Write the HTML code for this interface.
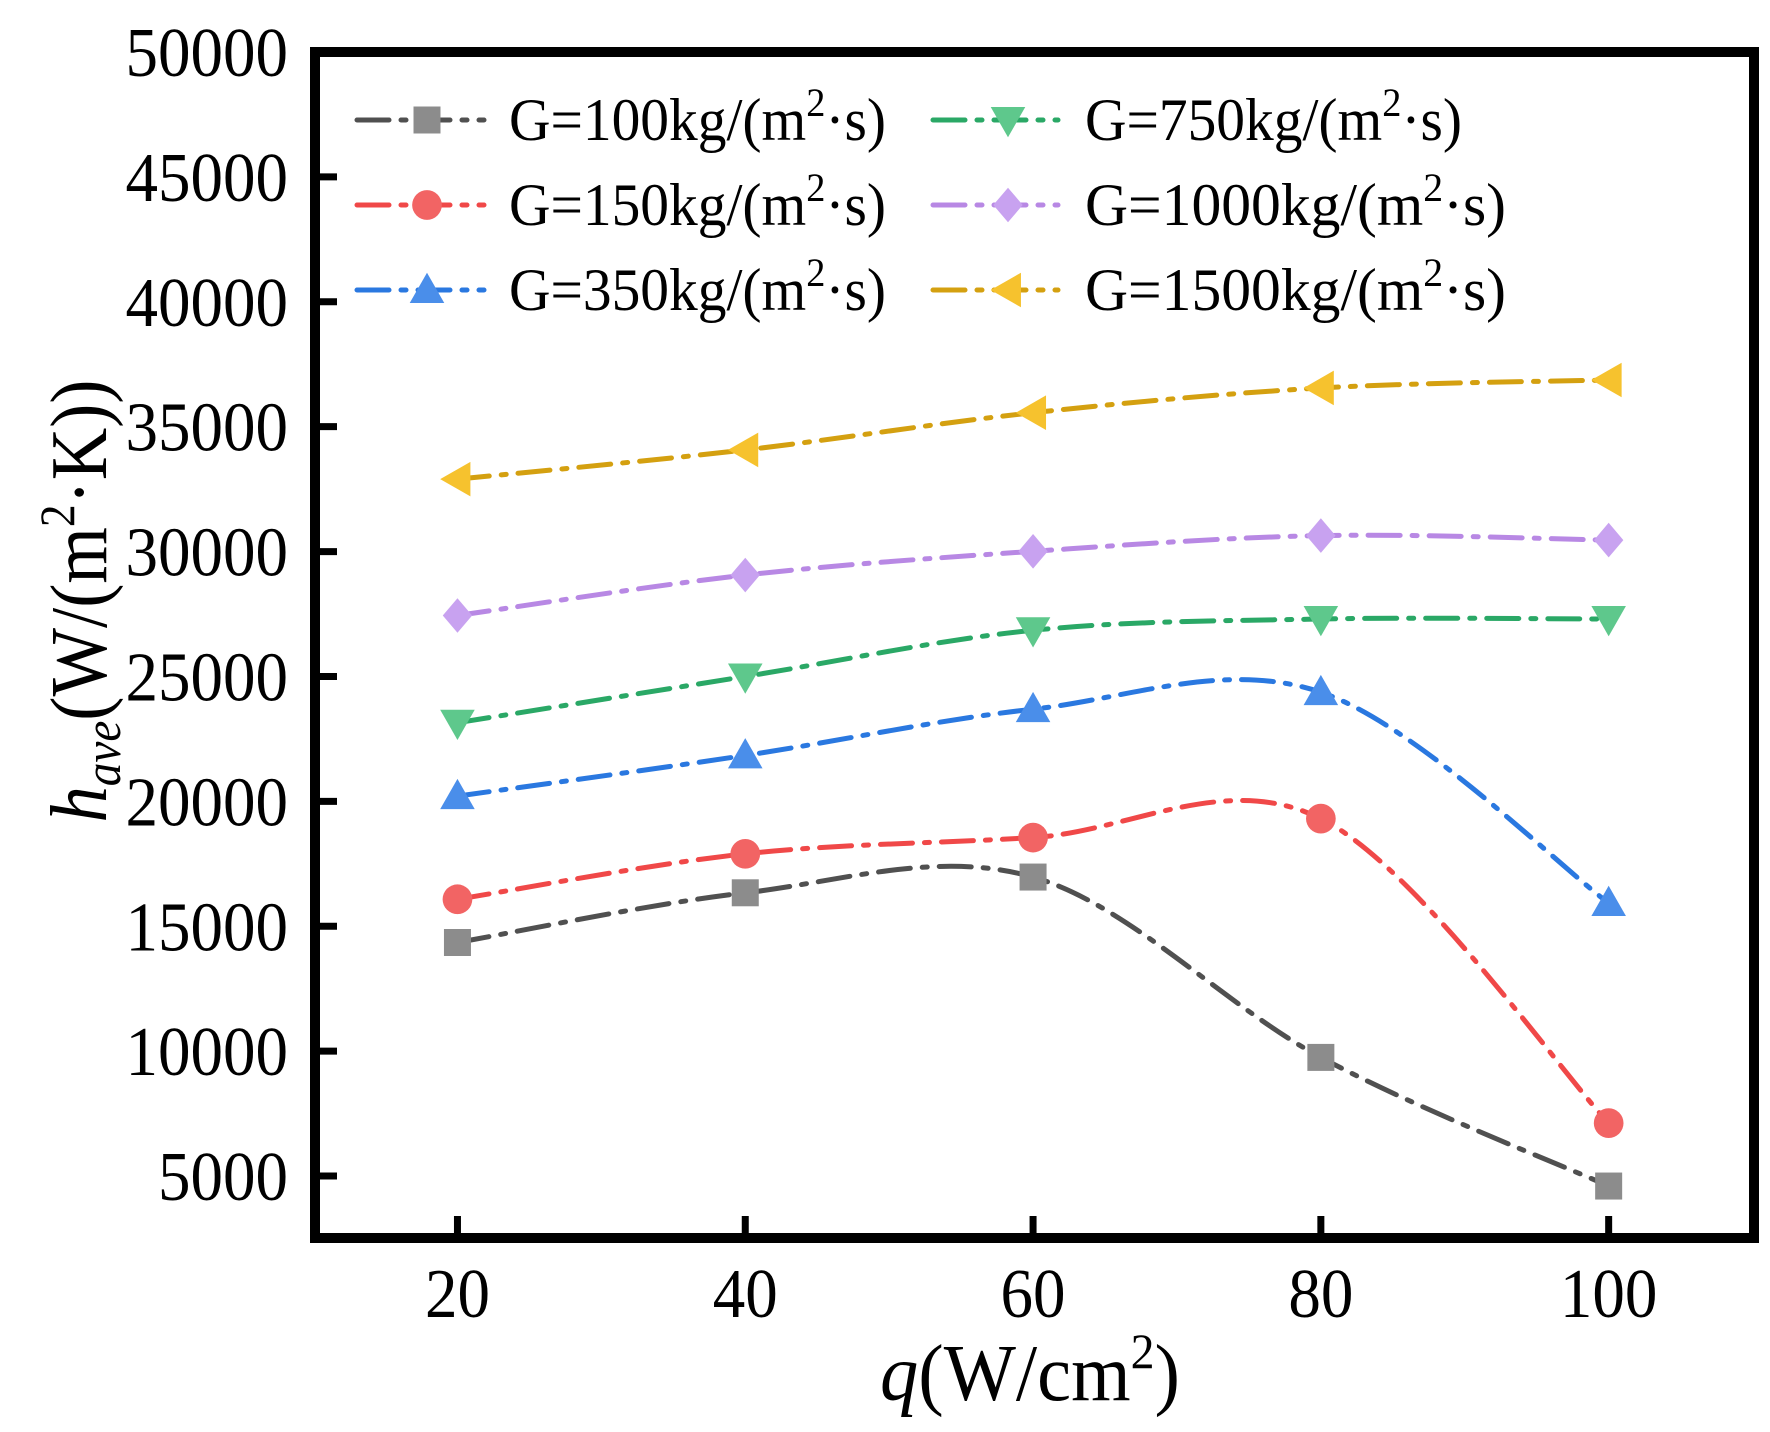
<!DOCTYPE html>
<html><head><meta charset="utf-8"><style>
html,body{margin:0;padding:0;background:#fff;}
svg{display:block;font-family:"Liberation Serif","DejaVu Serif",serif;}
</style></head><body>
<svg id="chart" width="1770" height="1432" viewBox="0 0 1770 1432" xmlns="http://www.w3.org/2000/svg">
<g id="plot"></g>
<g id="axes"></g>
<g id="legend"></g>
<text x="1030" y="1400" text-anchor="middle" font-size="80" textLength="300" lengthAdjust="spacingAndGlyphs"><tspan font-style="italic">q</tspan>(W/cm<tspan font-size="50" dy="-32">2</tspan><tspan dy="32">)</tspan></text>
<text transform="translate(106,601) rotate(-90)" text-anchor="middle" font-size="80" textLength="443" lengthAdjust="spacingAndGlyphs"><tspan font-style="italic">h</tspan><tspan font-style="italic" font-size="52" dy="14">ave</tspan><tspan dy="-14">(W/(m</tspan><tspan font-size="50" dy="-32">2</tspan><tspan dy="32">·K))</tspan></text>
</svg>
<script>
const xValues = [20, 40, 60, 80, 100];
const seriesNames = ["G=100", "G=150", "G=350", "G=750", "G=1000", "G=1500"];
const g100 = [14350, 16340, 16970, 9750, 4600];
const g150 = [16080, 17900, 18550, 19310, 7120];
const g350 = [20210, 21840, 23690, 24370, 15930];
const g750 = [23150, 25000, 26850, 27300, 27300];
const g1000 = [27440, 29060, 30010, 30640, 30460];
const g1500 = [32900, 34070, 35560, 36550, 36870];
const yTicks = [5000, 10000, 15000, 20000, 25000, 30000, 35000, 40000, 45000, 50000];
const xTicks = [20, 40, 60, 80, 100];

const NS = "http://www.w3.org/2000/svg";
const L = 315, R = 1754, T = 52, B = 1238;
const xMin = 10.1, xMax = 110.1, yMin = 2520, yMax = 50000;
function xs(v){ return L + (v - xMin) / (xMax - xMin) * (R - L); }
function ys(v){ return B - (v - yMin) / (yMax - yMin) * (B - T); }
function mk(tag, attrs, parent){ const e = document.createElementNS(NS, tag); for (const k in attrs) e.setAttribute(k, attrs[k]); parent.appendChild(e); return e; }

const styles = [
  {line:"#505050", fill:"#8c8c8c", shape:"square", slug:"g100"},
  {line:"#f04848", fill:"#f26464", shape:"circle", slug:"g150"},
  {line:"#2a78e0", fill:"#4a8eea", shape:"up", slug:"g350"},
  {line:"#2aa866", fill:"#5ec88c", shape:"down", slug:"g750"},
  {line:"#b888e4", fill:"#c8a2f0", shape:"diamond", slug:"g1000"},
  {line:"#d4a010", fill:"#f6c22e", shape:"left", slug:"g1500"}
];
const allSeries = [g100, g150, g350, g750, g1000, g1500];
const dash = "32 12 5 12";

function marker(shape, cx, cy, s, fill, parent){
  let el;
  if (shape === "square") el = mk("rect", {x:cx-s/2, y:cy-s/2, width:s, height:s, fill:fill}, parent);
  else if (shape === "circle") el = mk("circle", {cx:cx, cy:cy, r:s*0.55, fill:fill}, parent);
  else {
    const h = s*0.64; let pts;
    if (shape === "up") pts = [[cx,cy-h],[cx+h,cy+h*0.75],[cx-h,cy+h*0.75]];
    else if (shape === "down") pts = [[cx,cy+h],[cx+h,cy-h*0.75],[cx-h,cy-h*0.75]];
    else if (shape === "left") pts = [[cx-h,cy],[cx+h*0.75,cy-h],[cx+h*0.75,cy+h]];
    else pts = [[cx,cy-h],[cx+h*0.85,cy],[cx,cy+h],[cx-h*0.85,cy]];
    el = mk("polygon", {points:pts.map(p=>p.join(",")).join(" "), fill:fill}, parent);
  }
  return el;
}

function splinePath(px){
  let d = "M" + px[0][0] + "," + px[0][1];
  for (let i = 0; i < px.length - 1; i++){
    const p0 = px[Math.max(0,i-1)], p1 = px[i], p2 = px[i+1], p3 = px[Math.min(px.length-1,i+2)];
    const c1 = [p1[0] + (p2[0]-p0[0])/6, p1[1] + (p2[1]-p0[1])/6];
    const c2 = [p2[0] - (p3[0]-p1[0])/6, p2[1] - (p3[1]-p1[1])/6];
    d += " C" + c1.join(",") + " " + c2.join(",") + " " + p2.join(",");
  }
  return d;
}

const plot = document.getElementById("plot");
allSeries.forEach((vals, si) => {
  const st = styles[si];
  const g = mk("g", {}, plot);
  
  
  const px = vals.map((v, i) => [xs(xValues[i]), ys(v)]);
  const path = mk("path", {d:splinePath(px), fill:"none", stroke:st.line, "stroke-width":5, "stroke-dasharray":dash, "stroke-linecap":"round"}, g);
  
  
  px.forEach((p, i) => {
    const m = marker(st.shape, p[0], p[1], 27, st.fill, g);
    
    
  });
});

const axes = document.getElementById("axes");
const frame = mk("rect", {x:L, y:T, width:R-L, height:B-T, fill:"none", stroke:"#000", "stroke-width":10}, axes);


yTicks.forEach(v => {
  const y = ys(v);
  const t = mk("line", {x1:L, x2:L+22, y1:y, y2:y, stroke:"#000", "stroke-width":7}, axes);
  
  
  const lab = mk("text", {x:288, y:y+24, "text-anchor":"end", "font-size":70, textLength: String(v).length*32.5, lengthAdjust:"spacingAndGlyphs"}, axes);
  lab.textContent = v;
  
  
});
xTicks.forEach(v => {
  const x = xs(v);
  const t = mk("line", {x1:x, x2:x, y1:B, y2:B-22, stroke:"#000", "stroke-width":7}, axes);
  
  
  const lab = mk("text", {x:x, y:1317, "text-anchor":"middle", "font-size":70, textLength: String(v).length*32.5, lengthAdjust:"spacingAndGlyphs"}, axes);
  lab.textContent = v;
  
  
});

const legendLabels = ["100", "150", "350", "750", "1000", "1500"];
const legend = document.getElementById("legend");
legendLabels.forEach((lbl, i) => {
  const st = styles[i];
  const col = i < 3 ? 0 : 1, row = i % 3;
  const y = 120 + row * 85;
  const lx0 = col ? 933 : 357, lx1 = col ? 1058 : 484, mx = col ? 1008 : 427, tx = col ? 1085 : 509;
  const g = mk("g", {}, legend);
  
  
  mk("line", {x1:lx0, x2:lx1, y1:y, y2:y, stroke:st.line, "stroke-width":5, "stroke-dasharray":dash, "stroke-linecap":"round"}, g);
  marker(st.shape, mx, y, 27, st.fill, g);
  const t = mk("text", {x:tx, y:y+20, "font-size":60, textLength: lbl.length === 4 ? 421 : 377, lengthAdjust:"spacingAndGlyphs"}, g);
  t.innerHTML = 'G=' + lbl + 'kg/(m<tspan font-size="40" dy="-24">2</tspan><tspan dy="24">·s)</tspan>';
});
</script>
</body></html>
